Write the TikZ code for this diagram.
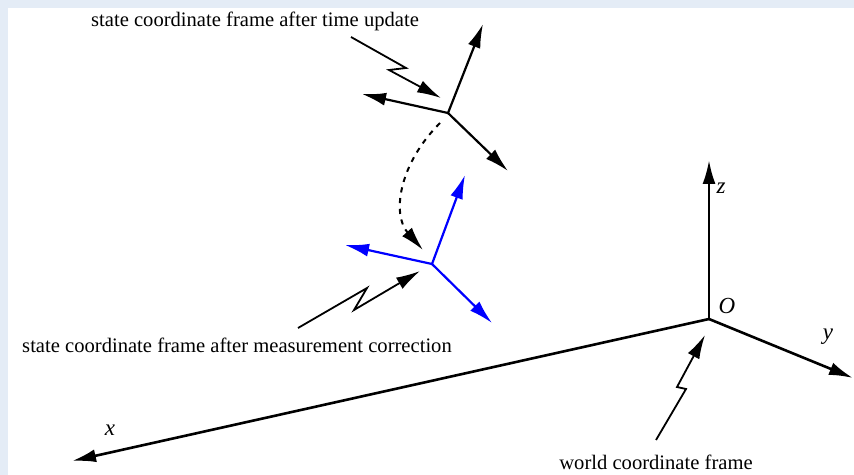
\documentclass[tikz,border=0pt]{standalone}
\usepackage{fontspec}
\setmainfont{Liberation Serif}
\usetikzlibrary{
    arrows.meta
}
\definecolor{pagebg}{RGB}{228,236,246}

\begin{document}
\begin{tikzpicture}[
    x=0.5pt, y=-0.5pt,
    >={Latex[length=12pt,width=6.5pt]},
    axis/.style={->, line width=1.3pt},
    framearrow/.style={->, line width=1.1pt},
    corrarrow/.style={->, line width=1.1pt, blue},
    pointer/.style={->, line width=0.9pt, line join=miter},
    transfer/.style={->, line width=1pt, dash pattern=on 2.6pt off 2.8pt},
    lbl/.style={font=\fontsize{10.3}{12}\selectfont, inner sep=0pt},
    axlbl/.style={font=\fontsize{11.5}{12}\selectfont\itshape, inner sep=0pt}
]

\path[use as bounding box, fill=pagebg] (0,0) rectangle (854,475);
\fill[white] (8,8) rectangle (854,475);

% world frame
\coordinate (O) at (709,319);
\coordinate (Xw) at (72,461);
\coordinate (Yw) at (853,378);
\coordinate (Zw) at (709,160);
\draw[axis] (O) -- (Xw);
\draw[axis] (O) -- (Yw);
\draw[axis] (O) -- (Zw);

\node[axlbl] (xlab) at (110,430) {x};
\node[axlbl] (ylab) at (828,337) {y};
\node[axlbl] (zlab) at (721,188) {z};
\node[axlbl] (Olab) at (727,306) {O};

% frame after time update
\coordinate (tu) at (448,113);
\coordinate (tuA) at (483,24);
\coordinate (tuB) at (362,94);
\coordinate (tuC) at (508,171);
\draw[framearrow] (tu) -- (tuA);
\draw[framearrow] (tu) -- (tuB);
\draw[framearrow] (tu) -- (tuC);

% frame after measurement correction
\coordinate (mc) at (432,264);
\coordinate (mcA) at (465,175);
\coordinate (mcB) at (345,245);
\coordinate (mcC) at (492,323);
\draw[corrarrow] (mc) -- (mcA);
\draw[corrarrow] (mc) -- (mcB);
\draw[corrarrow] (mc) -- (mcC);

% correction step
\coordinate (arcStart) at (440,123);
\coordinate (arcEnd) at (423,250);
\draw[transfer] (arcStart) .. controls (398,165) and (392,215) .. (arcEnd);

% labels and pointers
\node[lbl] (tuLabel) at (255,21) {state coordinate frame after time update};
\node[lbl] (mcLabel) at (237,345) {state coordinate frame after measurement correction};
\node[lbl] (wLabel) at (656,462) {world coordinate frame};

\coordinate (tuStart) at (351,37);
\coordinate (tuTip) at (441,98);
\draw[pointer] (tuStart) -- ++(55,31) -- ++(-17,2) -- (tuTip);

\coordinate (mcStart) at (298,328);
\coordinate (mcTip) at (420,271);
\draw[pointer] (mcStart) -- ++(69,-40) -- ++(-13,22) -- (mcTip);

\coordinate (wStart) at (656,440);
\coordinate (wTip) at (705,335);
\draw[pointer] (wStart) -- ++(30,-51) -- ++(-9,-2) -- (wTip);

\end{tikzpicture}
\end{document}
